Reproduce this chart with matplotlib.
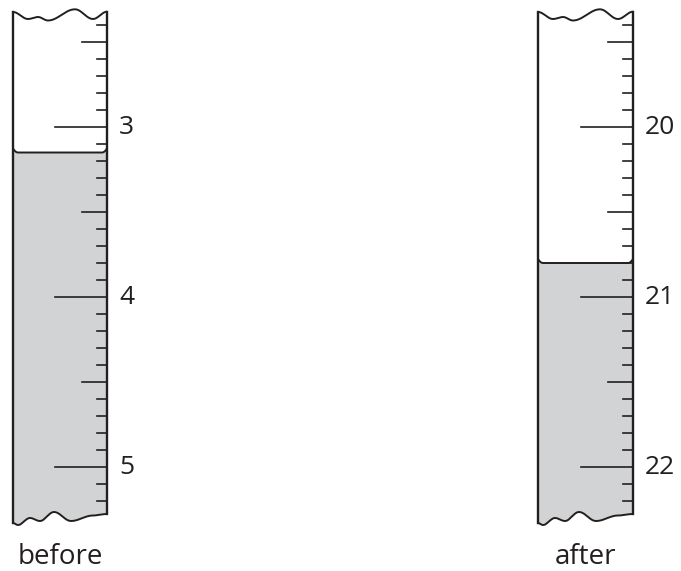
import numpy as np
import matplotlib
matplotlib.use("Agg")
import matplotlib.pyplot as plt

# ---------------- data ----------------
labels = ["before", "after"]
readings = [3.15, 20.80]                 # meniscus level (mL)
major_ticks = [[3, 4, 5], [20, 21, 22]]  # labelled marks
scale_ranges = [(2.4, 5.2), (19.4, 22.2)]  # first/last graduation shown

# ---------------- layout ----------------
W, H = 681, 571
PX_PER_ML = 170.0
tube_left_px = [13, 538]
tube_width_px = [94, 95]
major_y_px = 127           # pixel row of the first labelled mark
LINE = "#231f20"
FILL = "#d1d3d4"
FONT = ["Open Sans", "DejaVu Sans"]

fig = plt.figure(figsize=(W / 100, H / 100), dpi=100)


def cos_path(xs, ys, n=24):
    px, py = [], []
    for k in range(len(xs) - 1):
        t = np.linspace(0, 1, n, endpoint=(k == len(xs) - 2))
        s = (1 - np.cos(np.pi * t)) / 2
        px.extend(xs[k] + (xs[k + 1] - xs[k]) * t)
        py.extend(ys[k] + (ys[k + 1] - ys[k]) * s)
    return np.array(px), np.array(py)


for i in range(2):
    w = tube_width_px[i]
    ax = fig.add_axes([tube_left_px[i] / W, 0, w / W, 1])
    first = major_ticks[i][0]
    top_v = first - major_y_px / PX_PER_ML
    bot_v = first + (H - major_y_px) / PX_PER_ML
    ax.set_xlim(0, w)
    ax.set_ylim(bot_v, top_v)
    ax.axis("off")

    def v(px):
        return first + (np.asarray(px, dtype=float) - major_y_px) / PX_PER_ML

    # top wavy edge
    tx, ty = cos_path([0, 15, 25, 35, 62, 80, w],
                      [12, 19, 17, 20.5, 9.3, 19, 11.7])
    ax.plot(tx, v(ty), color=LINE, lw=1.4, solid_capstyle="round")

    # bottom wavy edge (right to left)
    bx, by = cos_path([w, 80, 58, 41, 27, 17, 5, 0],
                      [514, 515.5, 521, 512, 521, 518, 525, 523])

    # liquid
    r = readings[i]
    mx = np.linspace(0, w, 120)
    edge = 5.0
    dip = np.where(mx < edge, 4 * (1 - mx / edge) ** 2,
                   np.where(mx > w - edge, 4 * (1 - (w - mx) / edge) ** 2, 0))
    my = r - dip / PX_PER_ML
    poly_x = np.concatenate([mx, [w], bx, [0]])
    poly_y = np.concatenate([my, [v(514)], v(by), [my[0]]])
    ax.fill(poly_x, poly_y, color=FILL, lw=0, zorder=1)
    ax.plot(mx, my, color=LINE, lw=1.4, zorder=3)
    ax.plot(bx, v(by), color=LINE, lw=1.4, zorder=3)

    # walls
    ax.plot([0, 0], [v(12), v(523)], color=LINE, lw=1.7, zorder=4,
            clip_on=False)
    ax.plot([w, w], [v(11.7), v(514)], color=LINE, lw=1.7, zorder=4,
            clip_on=False)

    # graduations
    lo, hi = scale_ranges[i]
    ticks = np.round(np.arange(round(lo * 10), round(hi * 10) + 1) / 10, 1)
    for t in ticks:
        if abs(t - round(t)) < 1e-6:
            L = 52
        elif abs(t * 2 - round(t * 2)) < 1e-6:
            L = 25
        else:
            L = 10
        ax.plot([w - L, w], [t, t], color=LINE, lw=1.2, zorder=4,
                clip_on=False)

    for m in major_ticks[i]:
        ax.text(w + 12, m, str(m), ha="left", va="center", fontsize=19,
                color=LINE, family=FONT, clip_on=False)

    ax.text(w / 2, v(564), labels[i], ha="center", va="baseline",
            fontsize=20, color=LINE, family=FONT, clip_on=False)

fig.savefig("out.png", dpi=100)
